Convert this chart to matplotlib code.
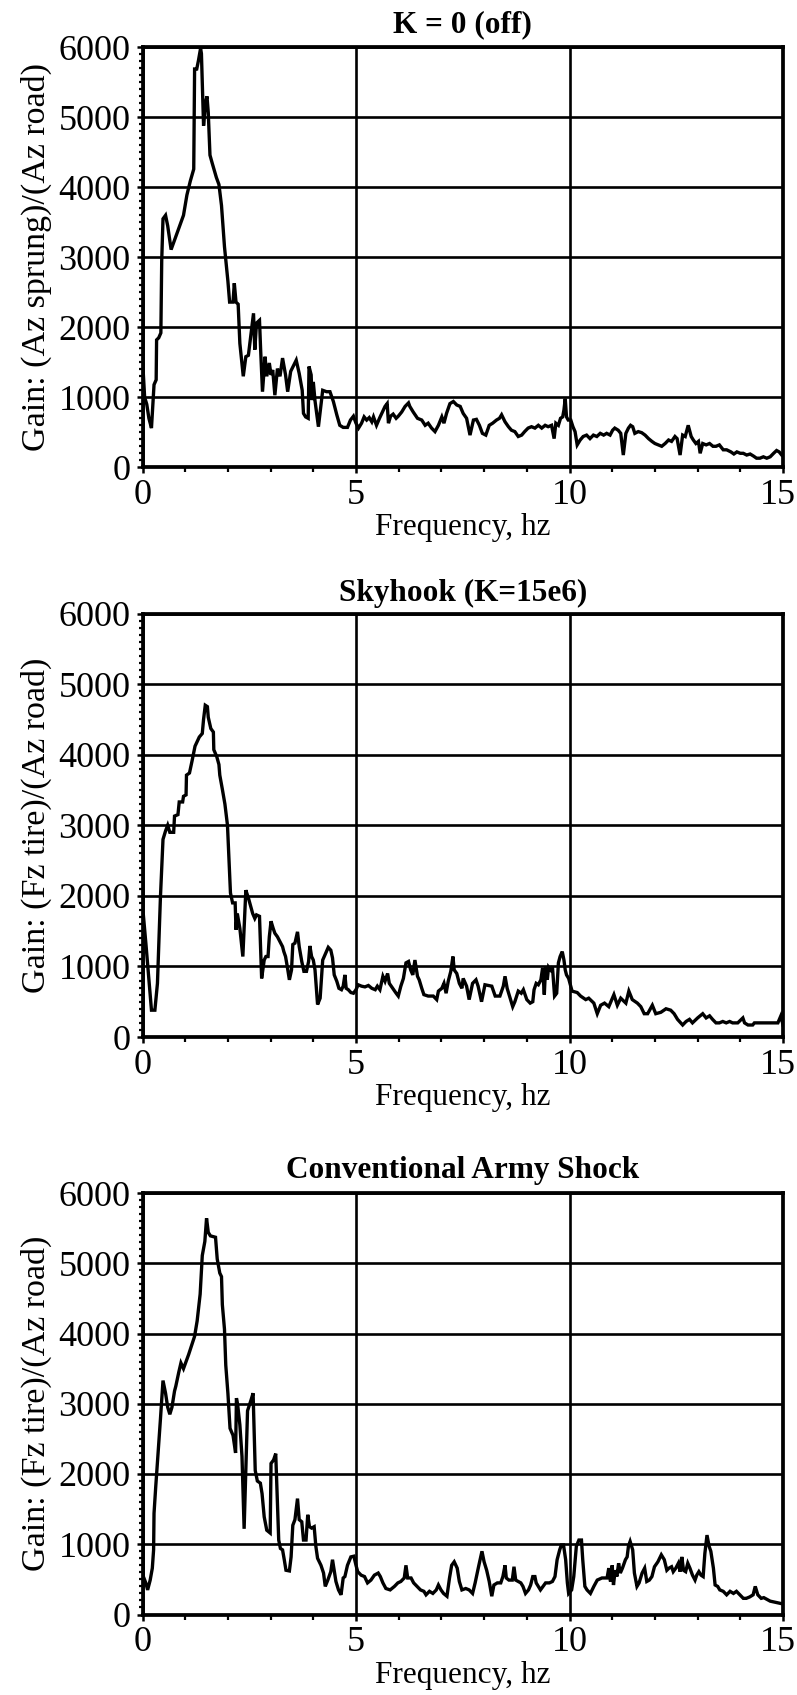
import matplotlib
matplotlib.use("Agg")
import matplotlib.pyplot as plt
import matplotlib.transforms as mtransforms
from matplotlib.ticker import MultipleLocator

plt.rcParams['font.family'] = ['Liberation Serif', 'DejaVu Serif']

# ---------------- data ----------------
titles = ["K = 0 (off)", "Skyhook (K=15e6)", "Conventional Army Shock"]
ylabels = ["Gain: (Az sprung)/(Az road)", "Gain: (Fz tire)/(Az road)", "Gain: (Fz tire)/(Az road)"]
xlabel = "Frequency, hz"
xticks = [0, 5, 10, 15]
yticks = [0, 1000, 2000, 3000, 4000, 5000, 6000]

freq_off = [0.0, 0.05, 0.1, 0.15, 0.21, 0.27, 0.32, 0.33, 0.38, 0.43, 0.45, 0.48, 0.54, 0.59, 0.67, 0.77,
            0.96, 1.04, 1.12, 1.2, 1.22, 1.27, 1.31, 1.36, 1.38, 1.43, 1.48, 1.51, 1.54, 1.58, 1.63, 1.73,
            1.79, 1.85, 1.92, 2.0, 2.04, 2.12, 2.15, 2.19, 2.24, 2.28, 2.36, 2.42, 2.48, 2.6, 2.63, 2.67,
            2.74, 2.77, 2.81, 2.87, 2.91, 2.97, 3.01, 3.05, 3.1, 3.16, 3.22, 3.28, 3.35, 3.4, 3.47, 3.6,
            3.67, 3.74, 3.77, 3.82, 3.88, 3.9, 3.95, 3.97, 4.0, 4.04, 4.12, 4.22, 4.31, 4.39, 4.47, 4.55,
            4.62, 4.7, 4.8, 4.87, 4.94, 5.0, 5.06, 5.13, 5.19, 5.25, 5.31, 5.37, 5.41, 5.48, 5.55, 5.62,
            5.68, 5.73, 5.76, 5.81, 5.87, 5.94, 5.99, 6.07, 6.15, 6.23, 6.26, 6.34, 6.44, 6.54, 6.62, 6.69,
            6.77, 6.85, 6.93, 7.01, 7.06, 7.12, 7.2, 7.28, 7.36, 7.44, 7.51, 7.59, 7.67, 7.75, 7.82, 7.89,
            7.96, 8.04, 8.12, 8.2, 8.29, 8.36, 8.41, 8.49, 8.57, 8.64, 8.72, 8.8, 8.88, 8.95, 9.03, 9.11,
            9.19, 9.27, 9.35, 9.43, 9.5, 9.58, 9.64, 9.68, 9.74, 9.79, 9.84, 9.87, 9.9, 9.93, 9.97, 10.03,
            10.08, 10.13, 10.18, 10.25, 10.32, 10.4, 10.48, 10.56, 10.64, 10.72, 10.8, 10.87, 10.95, 11.01,
            11.06, 11.14, 11.2, 11.26, 11.32, 11.38, 11.43, 11.48, 11.53, 11.61, 11.69, 11.77, 11.85, 11.93,
            12.0, 12.08, 12.16, 12.24, 12.32, 12.39, 12.47, 12.52, 12.59, 12.65, 12.71, 12.78, 12.85, 12.9,
            12.96, 13.02, 13.06, 13.12, 13.2, 13.28, 13.36, 13.43, 13.51, 13.6, 13.68, 13.78, 13.85, 13.92,
            14.0, 14.07, 14.15, 14.23, 14.31, 14.38, 14.46, 14.54, 14.62, 14.7, 14.78, 14.85, 14.91, 14.97]
gain_off = [1550, 1000, 900, 700, 560, 1180, 1250, 1820, 1850, 1920, 2950, 3550, 3600, 3450, 3110, 3280,
            3600, 3890, 4090, 4260, 5690, 5690, 5810, 5985, 5910, 4880, 5220, 5300, 5070, 4460, 4350, 4140,
            4040, 3740, 3150, 2660, 2360, 2360, 2630, 2360, 2330, 1770, 1300, 1580, 1600, 2200, 1680, 2060,
            2100, 1630, 1080, 1580, 1300, 1490, 1320, 1390, 1030, 1410, 1300, 1560, 1320, 1080, 1370, 1530,
            1340, 1100, 770, 720, 700, 1440, 1320, 960, 1220, 950, 580, 1100, 1080, 1080, 940, 750,
            600, 570, 570, 675, 730, 630, 560, 630, 720, 675, 710, 650, 720, 600, 700, 790,
            870, 910, 630, 730, 760, 700, 730, 790, 870, 920, 870, 790, 700, 675, 600, 630,
            560, 510, 600, 720, 630, 770, 910, 940, 890, 870, 770, 700, 460, 675, 685, 600,
            485, 460, 600, 630, 675, 700, 750, 650, 580, 530, 510, 440, 460, 510, 560, 580,
            560, 600, 560, 600, 580, 600, 410, 630, 600, 700, 720, 820, 980, 720, 675, 675,
            580, 510, 320, 390, 440, 460, 410, 460, 440, 485, 460, 485, 460, 530,
            560, 530, 485, 175, 485, 560, 600, 580, 485, 510, 495, 460, 410, 370,
            340, 320, 300, 340, 390, 370, 440, 410, 175, 460, 440, 600, 440, 390,
            340, 370, 200, 340, 320, 340, 300, 300, 320, 250, 250, 220, 190, 220,
            200, 200, 175, 190, 160, 130, 130, 150, 130, 150, 200, 240, 220, 175]

freq_sky = [0.0, 0.02, 0.08, 0.15, 0.21, 0.29, 0.35, 0.42, 0.48, 0.54, 0.59, 0.64, 0.73, 0.75, 0.83, 0.86,
            0.94, 0.96, 1.02, 1.03, 1.1, 1.16, 1.23, 1.33, 1.4, 1.43, 1.47, 1.52, 1.54, 1.6, 1.66, 1.67,
            1.74, 1.79, 1.81, 1.87, 1.93, 1.99, 2.02, 2.06, 2.11, 2.17, 2.19, 2.22, 2.28, 2.35, 2.42, 2.48,
            2.58, 2.63, 2.67, 2.74, 2.77, 2.79, 2.85, 2.89, 2.94, 2.97, 3.01, 3.06, 3.1, 3.16, 3.22, 3.28,
            3.31, 3.35, 3.39, 3.44, 3.49, 3.52, 3.57, 3.63, 3.67, 3.73, 3.78, 3.84, 3.89, 3.92, 3.96, 4.0,
            4.04, 4.1, 4.16, 4.22, 4.27, 4.35, 4.41, 4.45, 4.49, 4.55, 4.6, 4.66, 4.7, 4.74, 4.77, 4.82,
            4.88, 4.94, 5.0, 5.05, 5.13, 5.21, 5.29, 5.37, 5.45, 5.5, 5.56, 5.63, 5.68, 5.74, 5.78, 5.86,
            5.94, 5.99, 6.05, 6.11, 6.17, 6.23, 6.28, 6.33, 6.38, 6.44, 6.48, 6.54, 6.59, 6.69, 6.81, 6.89,
            6.93, 7.01, 7.06, 7.11, 7.16, 7.22, 7.27, 7.3, 7.36, 7.42, 7.48, 7.51, 7.59, 7.65, 7.73, 7.81,
            7.86, 7.94, 8.02, 8.1, 8.18, 8.26, 8.37, 8.45, 8.49, 8.54, 8.67, 8.72, 8.8, 8.87, 8.92, 9.0,
            9.08, 9.14, 9.17, 9.22, 9.27, 9.33, 9.37, 9.41, 9.44, 9.48, 9.51, 9.56, 9.6, 9.65, 9.7, 9.74,
            9.78, 9.83, 9.87, 9.9, 9.93, 9.98, 10.06, 10.18, 10.26, 10.38, 10.45, 10.57, 10.65, 10.73, 10.82,
            10.92, 11.04, 11.12, 11.2, 11.32, 11.39, 11.47, 11.59, 11.67, 11.75, 11.83, 11.94, 12.02, 12.14,
            12.26, 12.37, 12.45, 12.53, 12.65, 12.73, 12.81, 12.88, 13.0, 13.12, 13.2, 13.28, 13.35, 13.43,
            13.51, 13.59, 13.67, 13.75, 13.82, 13.94, 14.06, 14.1, 14.18, 14.29, 14.33, 14.57, 14.88, 14.95, 15.0]
gain_sky = [1750, 1730, 1320, 810, 380, 380, 760, 1980, 2800, 2920, 3000, 2900, 2900, 3130, 3150, 3330,
            3330, 3410, 3430, 3710, 3740, 3910, 4120, 4250, 4300, 4500, 4700, 4680, 4530, 4370, 4320, 4070,
            3970, 3860, 3710, 3510, 3300, 3000, 2590, 2040, 1900, 1900, 1520, 1750, 1540, 1140, 2080, 1970,
            1750, 1680, 1730, 1710, 1190, 830, 1090, 1140, 1140, 1420, 1640, 1540, 1470, 1420, 1350, 1280,
            1210, 1140, 1000, 810, 950, 1310, 1330, 1490, 1280, 1070, 930, 930, 1070, 1290, 1140, 1090,
            950, 460, 550, 1090, 1160, 1270, 1230, 1120, 880, 790, 690, 670, 720, 880, 690, 670,
            630, 620, 670, 740, 720, 710, 730, 690, 670, 720, 670, 860, 790, 900, 760, 690,
            620, 580, 720, 830, 1050, 1070, 950, 880, 1090, 860, 810, 690, 600, 580, 580, 530,
            650, 690, 760, 620, 790, 930, 1140, 950, 900, 760, 690, 830, 720, 530, 760, 810,
            720, 500, 740, 730, 720, 580, 580, 720, 860, 690, 430, 500, 650, 620, 670, 530,
            480, 500, 670, 760, 740, 810, 980, 600, 1000, 810, 990, 950, 1000, 580, 620, 1050,
            1140, 1210, 1090, 950, 880, 830, 650, 630, 580, 530, 550, 480, 330, 450, 480,
            430, 600, 450, 550, 480, 650, 530, 480, 430, 330, 330, 450, 330, 350,
            400, 380, 330, 250, 170, 220, 250, 200, 270, 330, 270, 300, 250, 200,
            200, 220, 200, 220, 200, 200, 270, 200, 170, 170, 200, 200, 200, 300, 170]

freq_conv = [0.0, 0.02, 0.08, 0.12, 0.18, 0.23, 0.26, 0.27, 0.31, 0.36, 0.42, 0.48, 0.54, 0.59, 0.64, 0.69,
             0.75, 0.78, 0.85, 0.9, 0.96, 1.02, 1.08, 1.15, 1.22, 1.28, 1.35, 1.4, 1.46, 1.5, 1.54, 1.59,
             1.71, 1.75, 1.81, 1.85, 1.87, 1.92, 1.95, 2.0, 2.05, 2.12, 2.18, 2.2, 2.23, 2.28, 2.33, 2.38,
             2.46, 2.54, 2.59, 2.64, 2.69, 2.76, 2.8, 2.85, 2.91, 2.99, 3.01, 3.07, 3.12, 3.19, 3.23, 3.28,
             3.32, 3.36, 3.44, 3.48, 3.52, 3.57, 3.63, 3.67, 3.73, 3.77, 3.83, 3.87, 3.91, 3.96, 4.02, 4.06,
             4.1, 4.18, 4.24, 4.28, 4.34, 4.41, 4.45, 4.53, 4.59, 4.65, 4.7, 4.74, 4.8, 4.88, 4.95, 5.0,
             5.04, 5.12, 5.2, 5.27, 5.35, 5.43, 5.52, 5.57, 5.63, 5.7, 5.8, 5.9, 5.98, 6.05, 6.13, 6.17,
             6.21, 6.29, 6.35, 6.43, 6.51, 6.59, 6.64, 6.72, 6.8, 6.88, 6.93, 6.99, 7.05, 7.13, 7.19, 7.24,
             7.3, 7.37, 7.42, 7.48, 7.57, 7.65, 7.73, 7.79, 7.87, 7.95, 8.0, 8.06, 8.12, 8.18, 8.23, 8.31,
             8.39, 8.44, 8.49, 8.52, 8.58, 8.66, 8.7, 8.74, 8.8, 8.86, 8.91, 8.97, 9.04, 9.09, 9.14, 9.19,
             9.22, 9.27, 9.32, 9.38, 9.44, 9.53, 9.6, 9.66, 9.71, 9.77, 9.81, 9.86, 9.91, 9.95, 9.98, 10.05,
             10.1, 10.16, 10.22, 10.28, 10.31, 10.36, 10.41, 10.49, 10.57, 10.65, 10.76, 10.88, 10.92, 10.96,
             11.0, 11.03, 11.07, 11.11, 11.15, 11.19, 11.24, 11.31, 11.35, 11.38, 11.42, 11.48, 11.52, 11.58,
             11.63, 11.7, 11.76, 11.81, 11.87, 11.93, 11.99, 12.07, 12.15, 12.22, 12.28, 12.33, 12.39, 12.43,
             12.49, 12.55, 12.59, 12.63, 12.67, 12.72, 12.77, 12.82, 12.88, 12.94, 12.98, 13.03, 13.08, 13.13,
             13.17, 13.22, 13.27, 13.31, 13.37, 13.41, 13.47, 13.52, 13.6, 13.68, 13.76, 13.84, 13.91, 13.99,
             14.07, 14.14, 14.22, 14.3, 14.35, 14.41, 14.49, 14.55, 14.7, 14.85, 15.0]
gain_conv = [820, 540, 445, 350, 490, 660, 920, 1440, 1820, 2250, 2780, 3330, 3150, 2950, 2850, 2950,
             3180, 3250, 3450, 3580, 3500, 3600, 3700, 3830, 3960, 4180, 4560, 5110, 5310, 5640, 5440, 5390,
             5370, 5060, 4860, 4810, 4410, 4060, 3550, 3150, 2650, 2550, 2300, 3080, 2980, 2700, 2250, 1220,
             2900, 3050, 3150, 2050, 1900, 1870, 1720, 1390, 1200, 1160, 2150, 2200, 2290, 1060, 940, 920,
             780, 630, 620, 820, 1270, 1350, 1650, 1350, 1320, 1060, 1060, 1420, 1250, 1230, 1250, 970,
             800, 700, 590, 400, 490, 610, 780, 470, 350, 280, 520, 540, 700, 820, 830, 700,
             610, 560, 540, 450, 490, 560, 590, 540, 450, 370, 350, 400, 450, 470, 520, 700,
             520, 520, 450, 400, 350, 330, 280, 330, 300, 350, 420, 350, 300, 260, 520, 700,
             750, 660, 470, 350, 370, 350, 300, 450, 680, 900, 750, 630, 470, 260, 420, 450,
             450, 540, 700, 520, 490, 490, 680, 490, 470, 450, 400, 300, 350, 420, 540, 540,
             450, 400, 350, 400, 450, 450, 470, 540, 780, 920, 990, 990, 780, 450, 300, 350,
             540, 970, 1060, 1060, 780, 400, 350, 300, 400, 490, 520, 520, 660, 470,
             700, 420, 630, 540, 730, 590, 660, 780, 820, 970, 1040, 920, 590, 400,
             450, 590, 660, 470, 490, 540, 680, 750, 850, 780, 630, 660, 680, 610,
             660, 730, 610, 820, 630, 610, 730, 660, 560, 490, 560, 610, 560, 540,
             870, 1130, 970, 900, 660, 420, 400, 350, 330, 280, 330, 300, 330, 280,
             230, 230, 250, 280, 400, 280, 230, 240, 190, 170, 150]

series = [(freq_off, gain_off), (freq_sky, gain_sky), (freq_conv, gain_conv)]

# ---------------- layout ----------------
W, H = 797, 1695
fig = plt.figure(figsize=(W / 100, H / 100), dpi=100)
left_px, right_px = 142.5, 783
boxes = [(47.3, 467.3), (613.5, 1037), (1193, 1614.5)]   # (top, bottom) in px
title_pads = [11, 9, 11]
shift_last = mtransforms.ScaledTranslation(-0.05, 0, fig.dpi_scale_trans)

for (fx, gy), (top, bot), title, ylab, tpad in zip(series, boxes, titles, ylabels, title_pads):
    ax = fig.add_axes([left_px / W, 1 - bot / H, (right_px - left_px) / W, (bot - top) / H])
    ax.plot(fx, gy, color='black', lw=2.4, solid_joinstyle='miter', zorder=3)
    ax.set_xlim(0, 15)
    ax.set_ylim(0, 6000)
    ax.set_xticks(xticks)
    ax.set_yticks(yticks)
    ax.xaxis.set_minor_locator(MultipleLocator(1))
    ax.yaxis.set_minor_locator(MultipleLocator(100))
    ax.grid(True, which='major', color='black', lw=1.9)
    ax.set_axisbelow(True)
    for s in ax.spines.values():
        s.set_linewidth(2.7)
        s.set_color('black')
    ax.tick_params(which='major', direction='out', length=4.5, width=1.8, labelsize=26, pad=4,
                   colors='black')
    ax.tick_params(which='minor', direction='out', length=3, width=1.6)
    ax.tick_params(axis='x', which='minor', length=3.5)
    last = ax.get_xticklabels()[-1]
    last.set_transform(last.get_transform() + shift_last)
    ax.set_title(title, fontsize=22.5, fontweight='bold', pad=tpad)
    ax.set_xlabel(xlabel, fontsize=22.5, labelpad=1)
    ax.set_ylabel(ylab, fontsize=24.5, labelpad=5)

fig.savefig("out.png", dpi=100)
